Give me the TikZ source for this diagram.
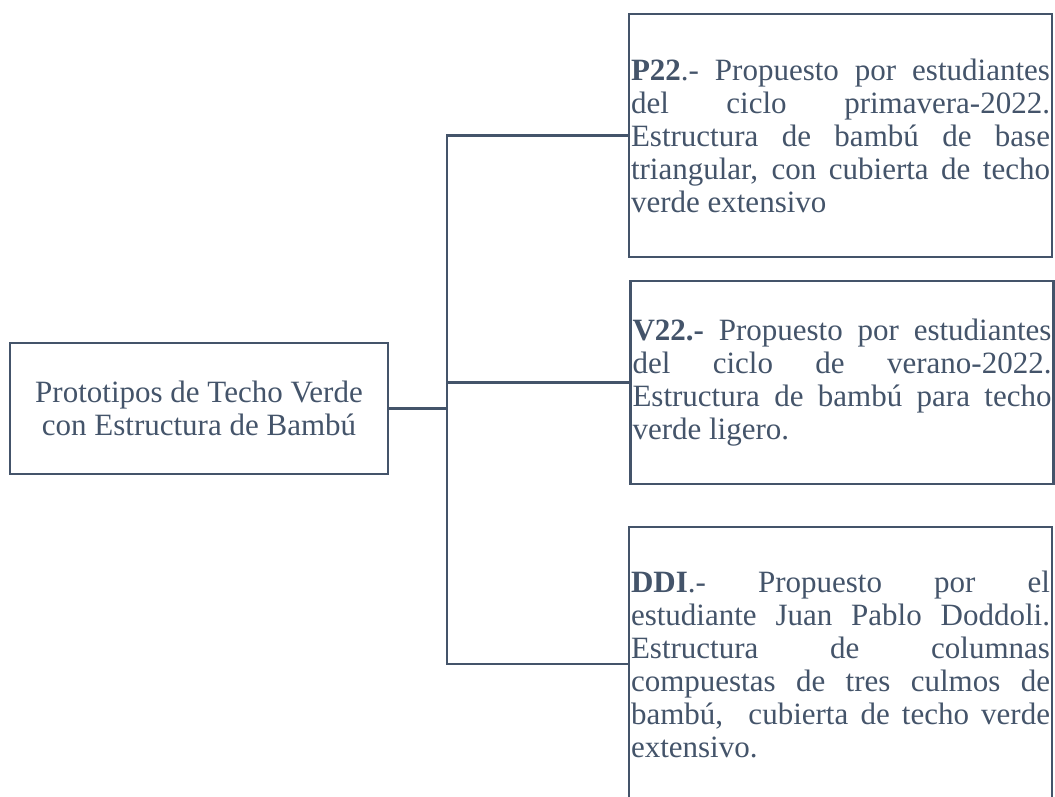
\documentclass[tikz,border=0pt]{standalone}
\usepackage{fontspec}
\setmainfont{Liberation Serif}
\usepackage{tikz}
\usetikzlibrary{positioning}
\definecolor{slate}{HTML}{44546A}
\tolerance=10000
\hbadness=10000
\hyphenpenalty=10000
\tikzset{box/.style={rectangle, draw=slate, line width=2.2pt, text=slate, fill=white,
                     font=\fontsize{31}{33}\selectfont, inner sep=2pt}}

\begin{document}
\begin{tikzpicture}[
  x=1pt, y=-1pt,
  rootbox/.style={box, minimum width=378pt, minimum height=131pt, align=center},
  infobox/.style={box, text width=419pt, align=justify},
  link/.style={draw=slate, line width=2.2pt},
]
 \clip (0,0) rectangle (1055,797);

 % Root box
 \node[rootbox] (root) at (199,408.5)
   {Prototipos de Techo Verde\\con Estructura de Bambú};

 % Prototype boxes
 \node[infobox, minimum height=243pt] (p22) at (840.5,135.5)
   {\textbf{P22}.- Propuesto por estudiantes\linebreak
    del ciclo primavera-2022.\linebreak
    Estructura de bambú de base\linebreak
    triangular, con cubierta de techo\linebreak
    verde extensivo};
 \node[infobox, minimum height=203pt] (v22) at (842,382.5)
   {\textbf{V22.-} Propuesto por estudiantes\linebreak
    del ciclo de verano-2022.\linebreak
    Estructura de bambú para techo\linebreak
    verde ligero.};
 \node[infobox, minimum height=274pt] (ddi) at (840.5,664)
   {\textbf{DDI}.- Propuesto por el\linebreak
    estudiante Juan Pablo Doddoli.\linebreak
    Estructura de columnas\linebreak
    compuestas de tres culmos de\linebreak
    bambú,~ cubierta de techo verde\linebreak
    extensivo.};

 % Connectors
 \coordinate (jn) at (447,408.5);
 \draw[link] (root.east) -- (jn);
 \draw[link] (p22.west) -- (jn |- p22.west) -- (jn |- ddi.west) -- (ddi.west);
 \draw[link] (jn |- v22.west) -- (v22.west);
\end{tikzpicture}
\end{document}
